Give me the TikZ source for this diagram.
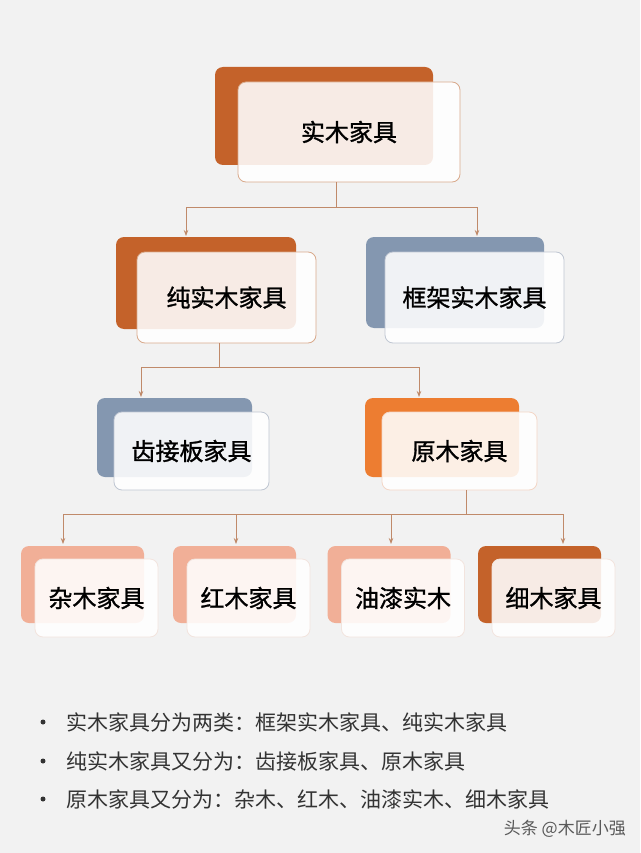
\documentclass[tikz,border=0pt]{standalone}
\usepackage{fontspec}
\newfontfamily\cjk{Noto Sans CJK SC}
\newfontfamily\cjkm[FakeBold=1.2]{Noto Sans CJK SC}
\usetikzlibrary{arrows.meta}
\definecolor{bg}{HTML}{F2F2F2}
\definecolor{darkor}{HTML}{C4622A}
\definecolor{bluegray}{HTML}{8497B0}
\definecolor{orng}{HTML}{ED7D31}
\definecolor{salmon}{HTML}{F1AF97}
\definecolor{linec}{HTML}{C08A6A}
\definecolor{bordor}{HTML}{D9AA8C}
\definecolor{bordbl}{HTML}{BFC6D2}
\definecolor{bordpe}{HTML}{F3D6C6}
\definecolor{bordli}{HTML}{F2E4DE}
\definecolor{txtg}{HTML}{333333}
\tikzset{
  back/.style={rounded corners=8pt, inner sep=0pt, draw=none},
  front/.style={rounded corners=8pt, fill=white, fill opacity=0.88, text opacity=1,
    line width=0.8pt, inner sep=0pt, font=\cjkm\fontsize{24}{28}\selectfont, text=black},
  conn/.style={draw=linec, line width=0.8pt},
  arr/.style={conn, -{Stealth[length=6pt,width=4.5pt]}},
  note/.style={font=\cjk\fontsize{21}{24}\selectfont, text=txtg, inner sep=0pt},
  dot/.style={circle, fill=txtg, inner sep=0pt, minimum size=5pt}
}
\begin{document}
\begin{tikzpicture}[x=1pt,y=-1pt]
\useasboundingbox (0,0) rectangle (640,853);
\fill[bg] (0,0) rectangle (640,853);

% level 1
\node[back, fill=darkor, minimum width=218pt, minimum height=98pt] (topB) at (324,116) {};
\node[front, draw=bordor, minimum width=222pt, minimum height=100pt] (topF) at (349,132) {实木家具};

% level 2
\node[back, fill=darkor, minimum width=180pt, minimum height=92pt] (csB) at (206,283) {};
\node[front, draw=bordor, minimum width=179pt, minimum height=91pt] (csF) at (226.5,297.5) {纯实木家具};
\node[back, fill=bluegray, minimum width=178pt, minimum height=91pt] (kjB) at (455,282.5) {};
\node[front, draw=bordbl, minimum width=179pt, minimum height=91pt] (kjF) at (474.5,297.5) {框架实木家具};

% level 3
\node[back, fill=bluegray, minimum width=155pt, minimum height=79pt] (cjB) at (174.5,437.5) {};
\node[front, draw=bordbl, minimum width=155pt, minimum height=78pt] (cjF) at (191.5,451) {齿接板家具};
\node[back, fill=orng, minimum width=154pt, minimum height=79pt] (ymB) at (442,437.5) {};
\node[front, draw=bordpe, minimum width=155pt, minimum height=78pt] (ymF) at (459.5,451) {原木家具};

% level 4
\node[back, fill=salmon, minimum width=123pt, minimum height=77pt] (zmB) at (82.5,584.5) {};
\node[front, draw=bordli, minimum width=123pt, minimum height=78pt] (zmF) at (96.5,598) {杂木家具};
\node[back, fill=salmon, minimum width=123pt, minimum height=77pt] (hmB) at (234.5,584.5) {};
\node[front, draw=bordli, minimum width=123pt, minimum height=78pt] (hmF) at (248.5,598) {红木家具};
\node[back, fill=salmon, minimum width=123pt, minimum height=77pt] (yqB) at (389,584.5) {};
\node[front, draw=bordli, minimum width=123pt, minimum height=78pt] (yqF) at (403,598) {油漆实木};
\node[back, fill=darkor, minimum width=123pt, minimum height=77pt] (xmB) at (539.5,584.5) {};
\node[front, draw=bordli, minimum width=123pt, minimum height=78pt] (xmF) at (553.5,598) {细木家具};

% connectors level 1 -> 2
\coordinate (j1) at (336,207);
\coordinate (a1) at (186,236);
\coordinate (a2) at (477,236);
\draw[conn] (j1 |- topF.south) -- (j1);
\draw[arr] (j1) -| (a1);
\draw[arr] (j1) -| (a2);

% connectors level 2 -> 3
\coordinate (j2) at (219,367);
\coordinate (b1) at (141,397);
\coordinate (b2) at (419,397);
\draw[conn] (j2 |- csF.south) -- (j2);
\draw[arr] (j2) -| (b1);
\draw[arr] (j2) -| (b2);

% connectors level 3 -> 4
\coordinate (j3) at (466,514);
\coordinate (c1) at (63,544);
\coordinate (c2) at (236,544);
\coordinate (c3) at (391,544);
\coordinate (c4) at (563,544);
\draw[conn] (j3 |- ymF.south) -- (j3);
\draw[conn] (c1 |- j3) -- (c4 |- j3);
\draw[arr] (c1 |- j3) -- (c1);
\draw[arr] (c2 |- j3) -- (c2);
\draw[arr] (c3 |- j3) -- (c3);
\draw[arr] (c4 |- j3) -- (c4);

% notes
\node[dot] (d1) at (43,722) {};
\node[note, anchor=west] (n1) at (66,722) {实木家具分为两类：框架实木家具、纯实木家具};
\node[dot] (d2) at (43,761) {};
\node[note, anchor=west] (n2) at (66,761) {纯实木家具又分为：齿接板家具、原木家具};
\node[dot] (d3) at (43,799) {};
\node[note, anchor=west] (n3) at (66,799) {原木家具又分为：杂木、红木、油漆实木、细木家具};
\node[font=\cjk\fontsize{17}{19}\selectfont, text=black!65, anchor=east, inner sep=0pt] (wm) at (626,829) {头条 @木匠小强};
\end{tikzpicture}
\end{document}
